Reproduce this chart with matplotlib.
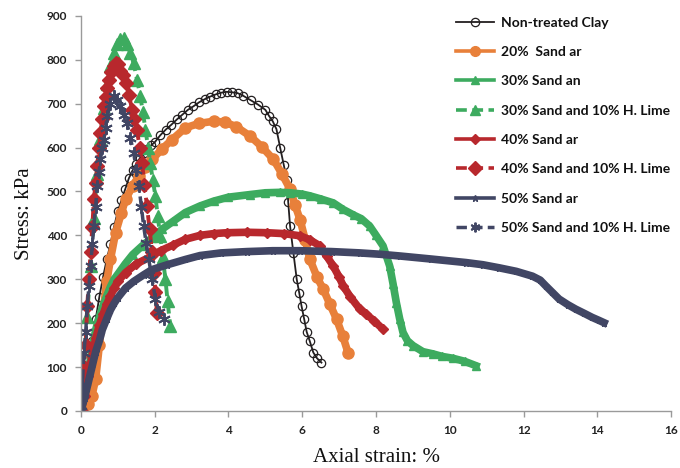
import matplotlib
matplotlib.use("Agg")
import matplotlib.pyplot as plt
from matplotlib.legend_handler import HandlerLine2D

# ---- stress-strain data (axial strain in %, stress in kPa) ----
clay_x = [0, 0.1, 0.2, 0.3, 0.4, 0.5, 0.6, 0.7, 0.8, 0.9, 1.0, 1.1, 1.2, 1.3, 1.4, 1.5,
          1.6, 1.7, 1.8, 1.9, 2.0, 2.15, 2.3, 2.45, 2.6, 2.75, 2.9, 3.05, 3.2, 3.35, 3.5,
          3.65, 3.8, 3.95, 4.1, 4.25, 4.4, 4.6, 4.8, 5.0, 5.1, 5.2, 5.3, 5.4, 5.5, 5.58,
          5.62, 5.67, 5.76, 5.85, 5.92, 5.98, 6.05, 6.12, 6.2, 6.3, 6.4, 6.52]
clay_y = [0, 45, 100, 160, 209, 260, 305, 345, 380, 420, 455, 480, 505, 530, 548, 563,
          576, 588, 597, 605, 612, 628, 641, 652, 664, 675, 686, 694, 703, 710, 716,
          721, 725, 727, 726, 724, 718, 708, 698, 686, 672, 660, 642, 600, 560, 527,
          475, 421, 360, 300, 268, 239, 210, 180, 160, 133, 120, 110]

sand20_x = [0, 0.2, 0.3, 0.4, 0.5, 0.6, 0.7, 0.8, 0.94, 1.1, 1.21, 1.4, 1.57, 1.75, 1.93,
            2.2, 2.47, 2.83, 3.2, 3.6, 3.9, 4.2, 4.59, 4.9, 5.22, 5.45, 5.67, 5.8, 5.94,
            6.08, 6.21, 6.4, 6.57, 6.75, 6.93, 7.1, 7.24]
sand20_y = [0, 15, 35, 73, 150, 225, 295, 345, 406, 452, 482, 512, 535, 555, 573,
            597, 618, 645, 655, 660, 658, 648, 626, 602, 573, 540, 505, 470, 436,
            390, 345, 305, 277, 243, 209, 170, 133]

sand30_x = [0, 0.1, 0.2, 0.3, 0.4, 0.5, 0.6, 0.7, 0.8, 0.9, 1.03, 1.2, 1.4, 1.66, 1.93,
            2.2, 2.5, 2.83, 3.23, 3.6, 4.0, 4.59, 5.0, 5.4, 5.67, 6.0, 6.21, 6.5, 6.84,
            7.11, 7.4, 7.6, 7.83, 8.0, 8.19, 8.37, 8.46, 8.55, 8.64, 8.73, 8.85, 9.0,
            9.27, 9.54, 9.8, 10.08, 10.4, 10.71]
sand30_y = [0, 40, 90, 140, 185, 215, 240, 262, 283, 300, 315, 335, 356, 376, 395,
            414, 432, 452, 467, 478, 487, 493, 497, 498, 497, 494, 490, 483, 474,
            459, 446, 438, 421, 400, 376, 330, 290, 247, 210, 179, 160, 149,
            135, 130, 124, 120, 113, 103]

lime30_x = [0, 0.08, 0.17, 0.26, 0.35, 0.44, 0.53, 0.62, 0.71, 0.8, 0.89, 0.98, 1.07,
            1.16, 1.25, 1.34, 1.43, 1.52, 1.61, 1.68, 1.75, 1.82, 1.88, 1.95, 2.02,
            2.08, 2.15, 2.22, 2.29, 2.35, 2.42]
lime30_y = [0, 95, 215, 330, 440, 540, 620, 690, 745, 785, 815, 835, 848,
            850, 835, 815, 792, 755, 717, 680, 641, 600, 565, 525, 489,
            445, 398, 350, 300, 250, 194]

sand40_x = [0, 0.1, 0.2, 0.3, 0.4, 0.5, 0.6, 0.7, 0.8, 0.9, 1.0, 1.21, 1.5, 1.93, 2.16,
            2.5, 2.83, 3.23, 3.6, 3.96, 4.5, 5.04, 5.5, 5.94, 6.2, 6.48, 6.66, 6.84,
            7.0, 7.11, 7.3, 7.56, 7.74, 7.95, 8.19]
sand40_y = [0, 35, 80, 125, 165, 195, 220, 243, 262, 280, 295, 315, 335, 353, 365,
            378, 391, 400, 404, 406, 407, 406, 404, 399, 390, 376, 353, 330,
            305, 285, 260, 232, 220, 205, 186]

lime40_x = [0, 0.04, 0.08, 0.13, 0.17, 0.22, 0.26, 0.31, 0.35, 0.4, 0.44, 0.49, 0.53,
            0.58, 0.62, 0.67, 0.71, 0.76, 0.82, 0.89, 0.94, 1.0, 1.07, 1.14, 1.21, 1.3,
            1.39, 1.45, 1.52, 1.59, 1.66, 1.72, 1.79, 1.86, 1.93, 1.98, 2.02, 2.06]
lime40_y = [0, 35, 100, 150, 239, 300, 361, 420, 482, 520, 558, 600, 633,
            665, 694, 715, 735, 755, 772, 785, 792, 790, 775, 765, 747, 720,
            686, 665, 641, 600, 565, 515, 467, 415, 361, 315, 270, 224]

sand50_x = [0, 0.1, 0.2, 0.3, 0.4, 0.5, 0.58, 0.7, 0.8, 0.9, 1.0, 1.21, 1.43, 1.7, 1.93,
            2.34, 2.83, 3.23, 3.8, 4.5, 5.2, 5.94, 6.8, 7.56, 8.1, 8.64, 9.5, 10.44,
            10.9, 11.34, 11.8, 12.24, 12.45, 12.6, 12.78, 12.96, 13.2, 13.41, 13.65,
            13.86, 14.05, 14.18]
sand50_y = [0, 30, 65, 100, 135, 160, 185, 210, 230, 245, 258, 280, 295, 310, 322,
            333, 345, 354, 360, 363, 365, 365, 363, 360, 357, 353, 346, 338,
            333, 326, 318, 307, 298, 285, 270, 255, 242, 232, 222,
            213, 206, 201]

lime50_x = [0, 0.04, 0.08, 0.13, 0.17, 0.22, 0.26, 0.31, 0.35, 0.4, 0.44, 0.49, 0.53,
            0.58, 0.62, 0.67, 0.71, 0.8, 0.89, 0.98, 1.07, 1.16, 1.25, 1.34, 1.43, 1.5,
            1.57, 1.64, 1.7, 1.77, 1.84, 1.93, 2.02, 2.12, 2.24]
lime50_y = [0, 60, 133, 180, 239, 285, 330, 380, 421, 465, 512, 545, 573,
            600, 618, 645, 671, 700, 717, 708, 694, 675, 656, 622, 588, 550,
            512, 465, 421, 383, 345, 300, 255, 225, 209]

labels = ["Non-treated Clay", "20%  Sand ar", "30% Sand an", "30% Sand and 10% H. Lime",
          "40% Sand ar", "40% Sand and 10% H. Lime", "50% Sand ar", "50% Sand and 10% H. Lime"]

x_ticks = [0, 2, 4, 6, 8, 10, 12, 14, 16]
y_ticks = [0, 100, 200, 300, 400, 500, 600, 700, 800, 900]

BLACK = "#231f20"
ORANGE = "#e8803a"
GREEN = "#3dab5f"
RED = "#b8282d"
SLATE = "#414664"

fig = plt.figure(figsize=(6.8, 4.68), dpi=100)
ax = fig.add_axes([0.119, 0.122, 0.868, 0.844])

series = [
    (clay_x, clay_y, dict(color=BLACK, lw=1.3, ls="-", marker="o", ms=6,
                          mfc="none", mec=BLACK, mew=0.9)),
    (sand20_x, sand20_y, dict(color=ORANGE, lw=5.5, ls="-", marker="o", ms=8,
                              mfc=ORANGE, mec=ORANGE)),
    (sand30_x, sand30_y, dict(color=GREEN, lw=5.5, ls="-", marker="^", ms=6,
                              mfc=GREEN, mec=GREEN)),
    (lime30_x, lime30_y, dict(color=GREEN, lw=2.8, ls=(0, (3, 1.5)), marker="^", ms=9,
                              mfc=GREEN, mec=GREEN)),
    (sand40_x, sand40_y, dict(color=RED, lw=5.5, ls="-", marker="D", ms=5,
                              mfc=RED, mec=RED)),
    (lime40_x, lime40_y, dict(color=RED, lw=2.8, ls=(0, (3, 1.5)), marker="D", ms=7,
                              mfc=RED, mec=RED)),
    (sand50_x, sand50_y, dict(color=SLATE, lw=5.5, ls="-", marker="*", ms=5,
                              mfc=SLATE, mec=SLATE)),
    (lime50_x, lime50_y, dict(color=SLATE, lw=2.5, ls=(0, (3, 1.5)), marker=(6, 2, 0),
                              ms=9, mfc=SLATE, mec=SLATE, mew=1.4)),
]

handles = []
for (xs, ys, style), lab in zip(series, labels):
    h, = ax.plot(xs, ys, label=lab, **style)
    handles.append(h)

ax.set_xlim(0, 16)
ax.set_ylim(0, 900)
ax.set_xticks(x_ticks)
ax.set_yticks(y_ticks)
ax.set_xticklabels([str(v) for v in x_ticks])
ax.set_yticklabels([str(v) for v in y_ticks])

for side in ("top", "right"):
    ax.spines[side].set_visible(False)
for side in ("left", "bottom"):
    ax.spines[side].set_color("#9a9a9a")
    ax.spines[side].set_linewidth(1.0)
ax.tick_params(axis="both", direction="out", length=4, width=1.0, color="#9a9a9a",
               labelsize=8.5, labelcolor="#222222", pad=6)
for lbl in ax.get_xticklabels() + ax.get_yticklabels():
    lbl.set_fontfamily("Lato")
    lbl.set_fontweight("bold")

ax.set_xlabel("Axial strain: %", fontfamily="Liberation Serif", fontsize=15,
              color="#111111", labelpad=9)
ax.set_ylabel("Stress: kPa", fontfamily="Liberation Serif", fontsize=15,
              color="#111111", labelpad=9)


class LegendLine(HandlerLine2D):
    def update_prop(self, legend_handle, orig_handle, legend):
        super().update_prop(legend_handle, orig_handle, legend)
        legend_handle.set_markersize(min(orig_handle.get_markersize(), 7))
        legend_handle.set_linewidth(min(orig_handle.get_linewidth(), 2.6))


leg = fig.legend(handles=handles, loc="upper left",
                 bbox_to_anchor=(450 / 680, 1 - 11 / 468),
                 frameon=False, handlelength=2.8, handletextpad=0.45,
                 labelspacing=1.25, numpoints=1, borderaxespad=0,
                 handler_map={h: LegendLine() for h in handles},
                 prop={"family": "Lato", "weight": "bold", "size": 10})
for t in leg.get_texts():
    t.set_color("#111111")

fig.savefig("out.png", dpi=100)
